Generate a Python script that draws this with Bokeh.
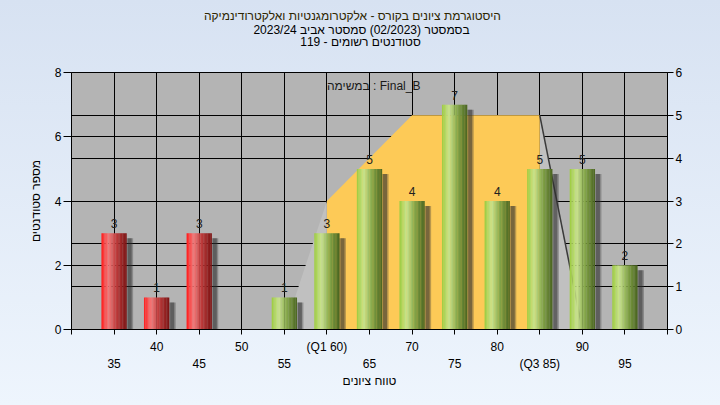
import glob
import numpy as np
from bokeh.plotting import figure
from bokeh.models import LinearAxis, Range1d, FixedTicker, Grid, Label, Title
from bokeh.core.properties import value
from bokeh.embed import file_html
from bokeh.resources import INLINE

# ---------------- data ----------------
categories = [35, 40, 45, 50, 55, 60, 65, 70, 75, 80, 85, 90, 95]
tick_labels = ["35", "40", "45", "50", "55", "(Q1 60)", "65", "70", "75", "80", "(Q3 85)", "90", "95"]
counts = [3, 1, 3, 0, 1, 3, 5, 4, 7, 4, 5, 5, 2]
pass_from = 55
dist_cats = [55, 60, 70, 85, 90]
dist_vals = [0, 3, 5, 5, 0]

title_lines = [
    "היסטוגרמת ציונים בקורס - אלקטרומגנטיות ואלקטרודינמיקה",
    "בסמסטר  (02/2023)  סמסטר אביב 2023/24",
    "סטודנטים רשומים - 119",
]
task_label = "במשימה : Final_B"
y_label = "מספר סטודנטים"
x_label = "טווח ציונים"

FONT = "Liberation Sans"
n = len(categories)
pos = {c: i + 1 for i, c in enumerate(categories)}

W, H = 720, 405
ML, MR, MT, MB = 71, 53, 72, 76
frame_w = W - ML - MR
frame_h = H - MT - MB
ux = frame_w / (n + 1)
uy = frame_h / 8.0


def text_width(txt, size=12):
    try:
        from PIL import ImageFont
        paths = glob.glob("/usr/share/fonts/**/LiberationSans-Regular.ttf", recursive=True)
        f = ImageFont.truetype(paths[0], size)
        return float(f.getlength(" ".join(txt.split())))
    except Exception:
        return len(txt) * 5.6


p = figure(width=W, height=H, output_backend="svg", toolbar_location=None,
           x_range=Range1d(0, n + 1), y_range=Range1d(0, 8),
           min_border_left=ML, min_border_right=MR, min_border_top=MT, min_border_bottom=MB)
p.extra_y_ranges = {"right": Range1d(0, 6)}
p.background_fill_color = "#b4b4b4"
p.border_fill_alpha = 0
p.styles = {"background": "linear-gradient(#d7e2f2, #eef5fd)"}
p.outline_line_color = "black"

# grids
p.xgrid.ticker = FixedTicker(ticks=list(range(1, n + 1)))
p.ygrid.ticker = FixedTicker(ticks=[0, 2, 4, 6, 8])
for g in (p.xgrid[0], p.ygrid[0]):
    g.grid_line_color = "black"
    g.grid_line_alpha = 1
    g.grid_line_width = 1
rgrid = Grid(dimension=1, ticker=FixedTicker(ticks=list(range(0, 7))), y_range_name="right",
             grid_line_color="black", grid_line_width=1)
p.add_layout(rgrid)

# distribution shape (right axis)
dx = [pos[c] for c in dist_cats]
p.patch([dx[0], dx[1], dx[1]], [dist_vals[0], dist_vals[1], 0], y_range_name="right",
        fill_color="#c0c0c0", line_color=None)
p.patch([dx[3], dx[4], dx[3]], [dist_vals[3], dist_vals[4], 0], y_range_name="right",
        fill_color="#c0c0c0", line_color=None)
p.patch([dx[1], dx[1], dx[2], dx[3], dx[3]], [0, dist_vals[1], dist_vals[2], dist_vals[3], 0],
        y_range_name="right", fill_color="#fdca57", line_color=None)
p.line([dx[3], dx[4]], [dist_vals[3], dist_vals[4]], y_range_name="right",
       line_color="#3a3a3a", line_width=1.5)

# bars (cylinder-like gradient strips)
def h2r(h):
    h = h.lstrip("#")
    return np.array([int(h[i:i + 2], 16) for i in (0, 2, 4)], dtype=float)

def interp(stops, t):
    for (t0, c0), (t1, c1) in zip(stops[:-1], stops[1:]):
        if t0 <= t <= t1:
            f = (t - t0) / (t1 - t0)
            c = h2r(c0) * (1 - f) + h2r(c1) * f
            return "#%02x%02x%02x" % tuple(int(round(v)) for v in c)
    return stops[-1][1]

green_stops = [(0.0, "#9ccc3e"), (0.28, "#cae48f"), (0.6, "#86a84a"), (1.0, "#4a6420")]
red_stops = [(0.0, "#ff1c1c"), (0.28, "#f27a7a"), (0.6, "#bd3a3a"), (1.0, "#7a1212")]

bar_w = 0.59
N = 18
sx, stop_, scol = [], [], []
shx, shtop = [], []
for c, v in zip(categories, counts):
    if v <= 0:
        continue
    stops = green_stops if c >= pass_from else red_stops
    for k in range(N):
        t = (k + 0.5) / N
        sx.append(pos[c] - bar_w / 2 + t * bar_w)
        stop_.append(v)
        scol.append(interp(stops, t))
    shx.append(pos[c] + bar_w / 2 + 3.0 / ux)
    shtop.append(v - 5.0 / uy)

p.vbar(x=shx, top=shtop, bottom=0, width=7.0 / ux, fill_color="#3a3a3a", fill_alpha=0.35, line_color=None)
p.vbar(x=shx, top=shtop, bottom=0, width=4.0 / ux, fill_color="#2a2a2a", fill_alpha=0.45, line_color=None)
p.vbar(x=sx, top=stop_, bottom=0, width=bar_w / N * 1.15, fill_color=scol, line_color=None)

lx = [pos[c] for c, v in zip(categories, counts) if v > 0]
ly = [v for v in counts if v > 0]
p.text(x=lx, y=ly, text=[str(v) for v in ly], text_align="center", text_baseline="bottom",
       y_offset=-5, text_font=value(FONT), text_font_size="12px", text_color="#202020")

# axes
xa = p.xaxis[0]
xa.ticker = FixedTicker(ticks=list(range(0, n + 2)))
ov1 = {0: "", n + 1: ""}
for i in range(1, n + 1):
    ov1[i] = tick_labels[i - 1] if i % 2 == 0 else ""
xa.major_label_overrides = ov1
xa.major_tick_out = 5
xa.major_tick_in = 0
xa.major_label_standoff = 5
xa.minor_tick_line_color = None

ax2 = LinearAxis(ticker=FixedTicker(ticks=list(range(1, n + 1, 2))))
ax2.major_label_overrides = {i: tick_labels[i - 1] for i in range(1, n + 1, 2)}
ax2.major_tick_line_color = None
ax2.minor_tick_line_color = None
ax2.major_tick_out = 0
ax2.major_tick_in = 0
ax2.major_label_standoff = 0
ax2.axis_label = x_label
ax2.axis_label_standoff = 0
p.add_layout(ax2, "below")

ya = p.yaxis[0]
ya.ticker = FixedTicker(ticks=[0, 2, 4, 6, 8])
ya.major_tick_out = 8
ya.major_tick_in = 0
ya.major_label_standoff = 2
ya.minor_tick_line_color = None
ya.axis_label = y_label
ya.axis_label_standoff = 9

ra = LinearAxis(y_range_name="right", ticker=FixedTicker(ticks=list(range(0, 7))))
ra.major_tick_out = 6
ra.major_tick_in = 0
ra.major_label_standoff = 2
ra.minor_tick_line_color = None
p.add_layout(ra, "right")

for a in (xa, ax2, ya, ra):
    a.axis_line_color = "black"
    a.major_label_text_font = FONT
    a.major_label_text_font_size = "12px"
    a.major_label_text_color = "black"
    a.axis_label_text_font = FONT
    a.axis_label_text_font_size = "12px"
    a.axis_label_text_font_style = "normal"
    a.axis_label_text_color = "black"
ax2.axis_line_color = None

# task label
p.add_layout(Label(x=pos[60], y=(H - MB - 85) / uy, text=task_label,
                   text_align="left", text_baseline="middle", text_font=FONT,
                   text_font_size="12px", text_color="#1a1a1a"))

# titles: spacer first (closest to the plot), then lines from bottom to top
p.add_layout(Title(text=" ", text_font_size="2px", standoff=20), "above")
title_center = [352, 361, 360]
title_cols = ["#2e2600", "black", "black"]
title_standoff = [4, -8, 0]
for txt, cxp, col, so in reversed(list(zip(title_lines, title_center, title_cols, title_standoff))):
    off = cxp - text_width(txt) / 2 - ML
    t = Title(text=txt, align="left", offset=off, text_font=FONT, text_font_size="12px",
              text_font_style="normal", text_color=col, standoff=so)
    p.add_layout(t, "above")

open("out.html", "w").write(file_html(p, INLINE))
